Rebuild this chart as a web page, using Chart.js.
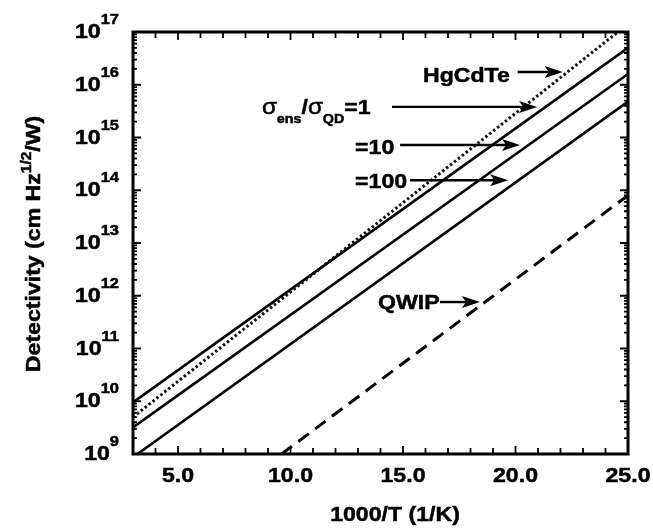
<!DOCTYPE html>
<html>
<head>
<meta charset="utf-8">
<script src="https://cdn.jsdelivr.net/npm/chart.js@4/dist/chart.umd.min.js"></script>
<style>
  html, body { margin: 0; padding: 0; background: #fff; }
  canvas { display: block; }
</style>
</head>
<body>
<canvas id="detChart" width="653" height="532"></canvas>
<script>
// detectivity vs inverse temperature (1000/T), log scale on D*
var hgcdteT = [3, 24.55];
var hgcdteD = [5.0e9, 1.0e17];
var ens1T = [3, 25];
var ens1D = [9.5e9, 5.0e16];
var ens10T = [3, 25];
var ens10D = [3.2e9, 1.6e16];
var ens100T = [3.2, 25];
var ens100D = [1.0e9, 4.8e15];
var qwipT = [9.6, 25];
var qwipD = [1.0e9, 8.0e13];

var xTickLabels = ['5.0', '10.0', '15.0', '20.0', '25.0'];
var xTickValues = [5, 10, 15, 20, 25];
var yExponents = [9, 10, 11, 12, 13, 14, 15, 16, 17];

var FONT = '"Liberation Sans", Arial, Helvetica, sans-serif';
var SX = 1.1; // text is a little wide in this figure

function pts(t, d) {
  return t.map(function (v, i) { return { x: v, y: d[i] }; });
}

// labels with arrows, placed in data coordinates
// runs: [text, size, baseline shift, weight]
var notes = [
  { runs: [['HgCdTe', 21, 0]], x: 15.89, y: 1.12e16, arrow: [20.1, 22.1, 1.74e16] },
  { runs: [['\u03c3', 22, 0, 'normal'], ['ens', 13, 9], ['/', 21, 0], ['\u03c3', 22, 0, 'normal'], ['QD', 13, 9], ['=1', 21, 0]],
    x: 8.73, y: 2.8e15, arrow: [14.51, 20.96, 3.8e15] },
  { runs: [['=10', 21, 0]], x: 12.87, y: 4.9e14, arrow: [14.87, 20.2, 7.2e14] },
  { runs: [['=100', 21, 0]], x: 12.87, y: 1.1e14, arrow: [15.31, 19.67, 1.55e14] },
  { runs: [['QWIP', 21, 0]], x: 13.89, y: 5.6e11, arrow: [16.64, 18.42, 7.6e11] }
];

function setFont(ctx, r) {
  ctx.font = (r[3] || 'bold') + ' ' + r[1] + 'px ' + FONT;
}

function runsWidth(ctx, runs) {
  var w = 0;
  runs.forEach(function (r) {
    setFont(ctx, r);
    w += ctx.measureText(r[0]).width * SX;
  });
  return w;
}

// draws runs starting at x (left), baseline y
function drawRuns(ctx, runs, x, y) {
  ctx.textBaseline = 'alphabetic';
  ctx.textAlign = 'left';
  runs.forEach(function (r) {
    setFont(ctx, r);
    ctx.save();
    ctx.translate(x, y + r[2]);
    ctx.scale(SX, 1);
    ctx.lineWidth = 0.5;
    ctx.fillText(r[0], 0, 0);
    ctx.strokeText(r[0], 0, 0);
    ctx.restore();
    x += ctx.measureText(r[0]).width * SX;
  });
}

function arrow(ctx, x0, x1, y) {
  ctx.lineWidth = 2.4;
  ctx.beginPath();
  ctx.moveTo(x0, y);
  ctx.lineTo(x1 - 12, y);
  ctx.stroke();
  ctx.beginPath();
  ctx.moveTo(x1, y);
  ctx.lineTo(x1 - 18, y - 6);
  ctx.lineTo(x1 - 14, y);
  ctx.lineTo(x1 - 18, y + 6);
  ctx.closePath();
  ctx.fill();
}

var framePlugin = {
  id: 'frame',
  afterDatasetsDraw: function (chart) {
    var ctx = chart.ctx;
    var a = chart.chartArea;
    var xs = chart.scales.x, ys = chart.scales.y;
    ctx.save();
    ctx.strokeStyle = '#000';
    ctx.fillStyle = '#000';
    ctx.lineCap = 'butt';

    // inward ticks, x every unit
    ctx.lineWidth = 1.8;
    ctx.beginPath();
    for (var t = 4; t < 25; t++) {
      var px = xs.getPixelForValue(t);
      var len = (t % 5 === 0) ? 8 : 6;
      ctx.moveTo(px, a.bottom); ctx.lineTo(px, a.bottom - len);
      ctx.moveTo(px, a.top); ctx.lineTo(px, a.top + len);
    }
    // log ticks on both sides
    for (var e = 9; e < 17; e++) {
      for (var m = 1; m < 10; m++) {
        var py = ys.getPixelForValue(m * Math.pow(10, e));
        var l = (m === 1) ? 8 : 4;
        ctx.moveTo(a.left, py); ctx.lineTo(a.left + l, py);
        ctx.moveTo(a.right, py); ctx.lineTo(a.right - l, py);
      }
    }
    ctx.stroke();

    // frame
    ctx.lineWidth = 3;
    ctx.strokeRect(a.left, a.top, a.right - a.left, a.bottom - a.top);

    // x tick labels
    xTickValues.forEach(function (v, i) {
      var runs = [[xTickLabels[i], 21, 0]];
      var w = runsWidth(ctx, runs);
      drawRuns(ctx, runs, xs.getPixelForValue(v) - w / 2, a.bottom + 28);
    });

    // y tick labels 10^n
    yExponents.forEach(function (n) {
      var py = ys.getPixelForValue(Math.pow(10, n));
      var runs = [['10', 21, 0], [String(n), 15, -14]];
      var w = runsWidth(ctx, runs);
      drawRuns(ctx, runs, 119 - w, py + 6);
    });

    // axis titles
    var xt = [['1000/T (1/K)', 21, 0]];
    drawRuns(ctx, xt, 395 - runsWidth(ctx, xt) / 2, 521);

    var yt = [['Detectivity (cm Hz', 21, 0], ['1/2', 14, -9], ['/W)', 21, 0]];
    ctx.save();
    ctx.translate(40, 244);
    ctx.rotate(-Math.PI / 2);
    drawRuns(ctx, yt, -runsWidth(ctx, yt) / 2, 0);
    ctx.restore();

    // annotations
    notes.forEach(function (n) {
      drawRuns(ctx, n.runs, xs.getPixelForValue(n.x), ys.getPixelForValue(n.y));
      arrow(ctx, xs.getPixelForValue(n.arrow[0]), xs.getPixelForValue(n.arrow[1]),
        ys.getPixelForValue(n.arrow[2]));
    });
    ctx.restore();
  }
};

var ctx = document.getElementById('detChart').getContext('2d');
var chart = new Chart(ctx, {
  type: 'line',
  data: {
    datasets: [
      { label: 'HgCdTe', data: pts(hgcdteT, hgcdteD), borderColor: '#111',
        borderWidth: 3, borderDash: [2.5, 2.5], borderCapStyle: 'butt' },
      { label: 'ens/QD=1', data: pts(ens1T, ens1D), borderColor: '#000', borderWidth: 2.6 },
      { label: 'ens/QD=10', data: pts(ens10T, ens10D), borderColor: '#000', borderWidth: 2.6 },
      { label: 'ens/QD=100', data: pts(ens100T, ens100D), borderColor: '#000', borderWidth: 2.6 },
      { label: 'QWIP', data: pts(qwipT, qwipD), borderColor: '#000',
        borderWidth: 3, borderDash: [13, 8] }
    ]
  },
  options: {
    responsive: false,
    animation: false,
    layout: { padding: { left: 133, right: 25, top: 32, bottom: 78 } },
    elements: { point: { radius: 0 }, line: { tension: 0 } },
    scales: {
      x: { type: 'linear', min: 3, max: 25, display: false },
      y: { type: 'logarithmic', min: 1e9, max: 1e17, display: false }
    },
    plugins: {
      legend: { display: false },
      tooltip: { enabled: false }
    }
  },
  plugins: [framePlugin]
});
</script>
</body>
</html>
